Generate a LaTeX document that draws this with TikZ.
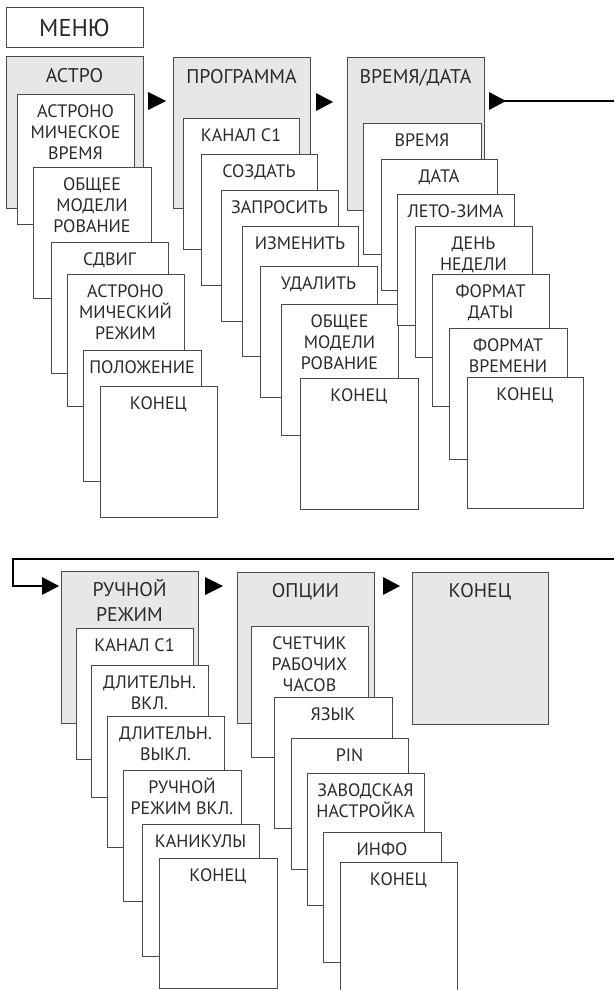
\documentclass[tikz,border=0pt]{standalone}
\usepackage{fontspec}
\setmainfont{PT Sans}
\definecolor{greyfill}{HTML}{E6E7E8}
\definecolor{boxline}{HTML}{4A4A4A}
\definecolor{textcol}{HTML}{2A2A2A}
\newcommand\fr{\rule{0pt}{16.5pt}}
\newcommand\ibox[6]{%
  \node[box, minimum width=#4pt, minimum height=#5pt] (#1) at (#2,#3) {};
  \node[txt] (#1t) at ([yshift=-6.8pt]#1.north) {\fr #6};}
\newcommand\gbx[6]{%
  \node[gbox, minimum width=#4pt, minimum height=#5pt] (#1) at (#2,#3) {};
  \node[ttl] (#1t) at ([yshift=-8.5pt]#1.north) {\fr #6};}
\begin{document}
\begin{tikzpicture}[x=1pt,y=-1pt,
  box/.style={draw=boxline, line width=1pt, fill=white, anchor=north west, inner sep=0pt, outer sep=0pt},
  gbox/.style={box, fill=greyfill},
  txt/.style={anchor=north, inner sep=0pt, align=center, font=\fontsize{18}{21}\selectfont, text=textcol},
  ttl/.style={anchor=north, inner sep=0pt, align=center, font=\fontsize{19.8}{25}\selectfont, text=textcol},
  tri/.style={fill=black},
  conn/.style={line width=2pt, draw=black}]
\useasboundingbox (0,0) rectangle (614,990);
\clip (0,0) rectangle (614,990);

% menu
\node[box, minimum width=137pt, minimum height=40pt] (menu) at (6,8) {};
\node[font=\fontsize{24.4}{28}\selectfont, text=textcol, inner sep=0pt] (menut) at (menu.center) {МЕНЮ};

% ASTRO column
\gbx{astro}{6}{57}{137}{151}{АСТРО}
\ibox{a1}{17}{94}{117}{130}{АСТРОНО\\МИЧЕСКОЕ\\ВРЕМЯ}
\ibox{a2}{33}{167}{118}{131}{ОБЩЕЕ\\МОДЕЛИ\\РОВАНИЕ}
\ibox{a3}{51}{242}{117}{131}{СДВИГ}
\ibox{a4}{67}{274}{117}{132}{АСТРОНО\\МИЧЕСКИЙ\\РЕЖИМ}
\ibox{a5}{83}{350}{118}{131}{ПОЛОЖЕНИЕ}
\ibox{a6}{100}{386}{117}{131}{КОНЕЦ}

% PROGRAMMA column
\gbx{prog}{173}{58}{137}{150}{ПРОГРАММА}
\ibox{p1}{183}{118}{116}{131}{КАНАЛ С1}
\ibox{p2}{201}{154}{116}{131}{СОЗДАТЬ}
\ibox{p3}{221}{190}{117}{131}{ЗАПРОСИТЬ}
\ibox{p4}{242}{226}{116}{130}{ИЗМЕНИТЬ}
\ibox{p5}{260}{266}{117}{131}{УДАЛИТЬ}
\ibox{p6}{281}{304}{117}{131}{ОБЩЕЕ\\МОДЕЛИ\\РОВАНИЕ}
\ibox{p7}{300}{378}{118}{131}{КОНЕЦ}

% TIME/DATE column
\gbx{vd}{347}{58}{137}{152}{ВРЕМЯ/ДАТА}
\ibox{v1}{363}{123}{118}{131}{ВРЕМЯ}
\ibox{v2}{381}{159}{116}{131}{ДАТА}
\ibox{v3}{397}{194}{117}{131}{ЛЕТО-ЗИМА}
\ibox{v4}{415}{226}{117}{131}{ДЕНЬ\\НЕДЕЛИ}
\ibox{v5}{432}{274}{117}{132}{ФОРМАТ\\ДАТЫ}
\ibox{v6}{449}{328}{118}{131}{ФОРМАТ\\ВРЕМЕНИ}
\ibox{v7}{467}{377}{116}{131}{КОНЕЦ}

% MANUAL column
\gbx{man}{61}{571}{137}{152}{РУЧНОЙ\\РЕЖИМ}
\ibox{r1}{76}{628}{117}{131}{КАНАЛ С1}
\ibox{r2}{91}{665}{117}{132}{ДЛИТЕЛЬН.\\ВКЛ.}
\ibox{r3}{107}{716}{117}{131}{ДЛИТЕЛЬН.\\ВЫКЛ.}
\ibox{r4}{123}{770}{118}{131}{РУЧНОЙ\\РЕЖИМ ВКЛ.}
\ibox{r5}{142}{824}{117}{132}{КАНИКУЛЫ}
\ibox{r6}{159}{858}{118}{130}{КОНЕЦ}

% OPTIONS column
\gbx{opt}{237}{572}{137}{151}{ОПЦИИ}
\ibox{o1}{251}{626}{117}{131}{СЧЕТЧИК\\РАБОЧИХ\\ЧАСОВ}
\ibox{o2}{274}{697}{118}{131}{ЯЗЫК}
\ibox{o3}{291}{738}{117}{131}{PIN}
\ibox{o4}{307}{773}{117}{132}{ЗАВОДСКАЯ\\НАСТРОЙКА}
\ibox{o5}{323}{832}{118}{130}{ИНФО}
\ibox{o6}{340}{862}{117}{131}{КОНЕЦ}

% END
\gbx{fin}{412}{572}{136}{152}{КОНЕЦ}

% arrowheads
\fill[tri] (148,92) -- (166,101) -- (148,110) -- cycle;
\fill[tri] (316,93) -- (333,102) -- (316,111) -- cycle;
\fill[tri] (489,92) -- (506,101) -- (489,110) -- cycle;
\fill[tri] (205,577) -- (223,586) -- (205,595) -- cycle;
\fill[tri] (383,577) -- (400,586) -- (383,595) -- cycle;
\fill[tri] (42,577) -- (59,586) -- (42,595) -- cycle;

% long connector
\coordinate (c1) at (500,101);
\coordinate (c2) at (614,101);
\coordinate (c3) at (614,559);
\coordinate (c4) at (13,559);
\coordinate (c5) at (13,586);
\coordinate (c6) at (45,586);
\draw[conn] (c1) -- (c2);
\draw[conn] (c3) -- (c4) -- (c5) -- (c6);
\end{tikzpicture}
\end{document}
